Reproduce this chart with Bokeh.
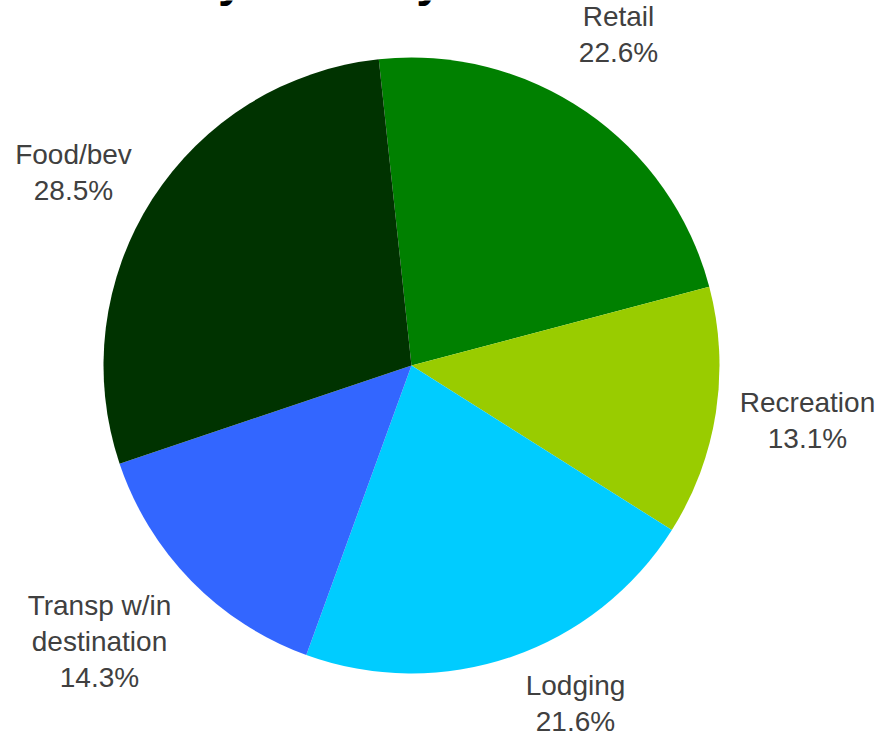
import numpy as np
from bokeh.plotting import figure
from bokeh.models import Range1d, ColumnDataSource
from bokeh.core.properties import value
from bokeh.embed import file_html
from bokeh.resources import INLINE

# ---- data ----
categories = ["Retail", "Recreation", "Lodging", "Transp w/in\ndestination", "Food/bev"]
shares = [22.6, 13.1, 21.6, 14.3, 28.5]
colors = ["#008000", "#99CC00", "#00CCFF", "#3366FF", "#003300"]
title_text = "Share by Industry"

# ---- layout ----
W, H = 879, 734
cx, cy, r = 411, H - 365, 308
start_deg = 96.1
label_pos = [(618, 34), (807, 420), (575, 703), (99, 641), (73, 172)]  # screen coords

p = figure(width=W, height=H, x_range=Range1d(0, W), y_range=Range1d(0, H),
           output_backend="svg", toolbar_location=None, min_border=0,
           x_axis_location=None, y_axis_location=None)
p.grid.visible = False
p.outline_line_color = None
p.background_fill_color = "white"
p.border_fill_color = "white"

frac = np.array(shares) / sum(shares)
cum = np.concatenate([[0], np.cumsum(frac)])
starts = np.radians(start_deg - cum[:-1] * 360)
ends = np.radians(start_deg - cum[1:] * 360)

src = ColumnDataSource(dict(start=starts, end=ends, color=colors))
p.wedge(x=cx, y=cy, radius=r, start_angle="start", end_angle="end",
        direction="clock", fill_color="color", line_color=None, source=src)

labels = [f"{c}\n{s}%" for c, s in zip(categories, shares)]
lsrc = ColumnDataSource(dict(x=[q[0] for q in label_pos], y=[H - q[1] for q in label_pos], t=labels))
p.text(x="x", y="y", text="t", source=lsrc, text_align="center", text_baseline="middle",
       text_font=value("Liberation Sans"), text_font_size="28px", text_color="#404040",
       text_line_height=1.15)

# cut-off title (only descenders visible)
p.text(x=[45], y=[H + 21], text=[title_text], text_align="left", text_baseline="alphabetic",
       text_font=value("Liberation Sans"), text_font_size="47px", text_font_style="bold",
       text_color="black")

open("out.html", "w").write(file_html(p, INLINE))
